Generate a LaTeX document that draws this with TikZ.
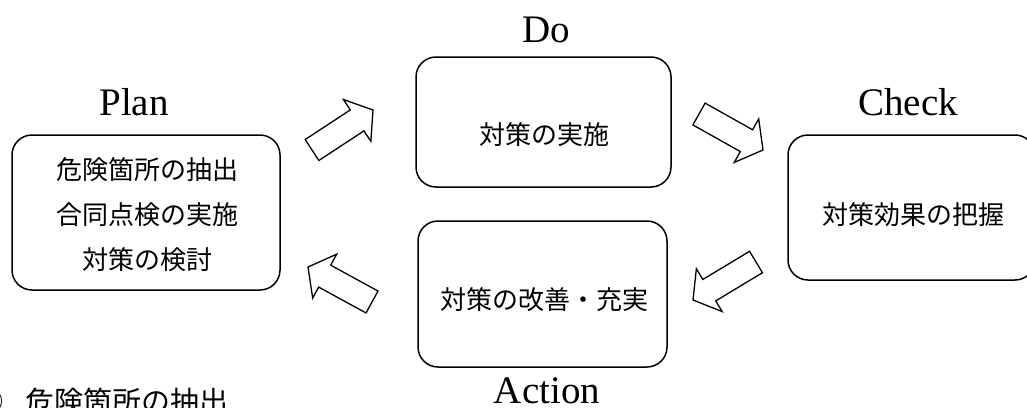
\documentclass[tikz,border=0pt]{standalone}
\usepackage{fontspec}
\newfontfamily\jp{Noto Sans CJK JP}
\newfontfamily\lat{Liberation Serif}
\usetikzlibrary{calc}
\tikzset{
  box/.style={draw, line width=1.5pt, rounded corners=20pt, inner sep=0pt},
  jptext/.style={font=\jp\fontsize{26}{45}\selectfont, inner sep=0pt, align=center},
  jpbig/.style={font=\jp\fontsize{29}{34}\selectfont, inner sep=0pt},
  phase/.style={font=\lat\fontsize{39}{42}\selectfont, inner sep=0pt, anchor=base},
  blockarrow/.style={draw, line width=1.3pt, fill=white, line join=miter},
}
\newcommand\blockarr[3]{%
  \coordinate (#3h) at ($(#2)!19pt!(#1)$);
  \draw[blockarrow] ($(#1)!12.5pt!90:(#2)$) -- ($(#3h)!12.5pt!90:(#2)$)
    -- ($(#3h)!25pt!90:(#2)$) -- (#2) -- ($(#3h)!25pt!-90:(#2)$)
    -- ($(#3h)!12.5pt!-90:(#2)$) -- ($(#1)!12.5pt!-90:(#2)$) -- cycle;
}
\begin{document}
\begin{tikzpicture}[x=1pt,y=-1pt]
\useasboundingbox (0,0) rectangle (1027,407);
% boxes
\node[box, minimum width=268pt, minimum height=155pt] (plan) at (146,212.5) {};
\node[box, minimum width=255pt, minimum height=130pt] (do) at (543.5,122) {};
\node[box, minimum width=249pt, minimum height=146pt] (act) at (542.5,294) {};
\node[box, minimum width=247pt, minimum height=145pt] (chk) at (911.5,207.5) {};
% box texts
\node[jptext] (plantxt) at (147,215) {危険箇所の抽出\\合同点検の実施\\対策の検討};
\node[jptext] (dotxt) at (544,135) {対策の実施};
\node[jptext] (acttxt) at (544,300) {対策の改善・充実};
\node[jptext] (chktxt) at (913,215) {対策効果の把握};
% phase labels
\node[phase] (planlbl) at (134,115) {Plan};
\node[phase] (dolbl) at (546,42) {Do};
\node[phase] (chklbl) at (908,115) {Check};
\node[phase] (actlbl) at (547,403) {Action};
% block arrows
\coordinate (a1t) at (312,150); \coordinate (a1h) at (373,110);
\coordinate (a2t) at (699,114); \coordinate (a2h) at (763,150);
\coordinate (a3t) at (756,262); \coordinate (a3h) at (693,300);
\coordinate (a4t) at (372,302); \coordinate (a4h) at (308,267);
\blockarr{a1t}{a1h}{b1}
\blockarr{a2t}{a2h}{b2}
\blockarr{a3t}{a3h}{b3}
\blockarr{a4t}{a4h}{b4}
% bottom list item
\node[jpbig, anchor=east] (num) at (4,401) {①};
\node[jpbig, anchor=west] (item) at (25,401) {危険箇所の抽出};
\end{tikzpicture}
\end{document}
